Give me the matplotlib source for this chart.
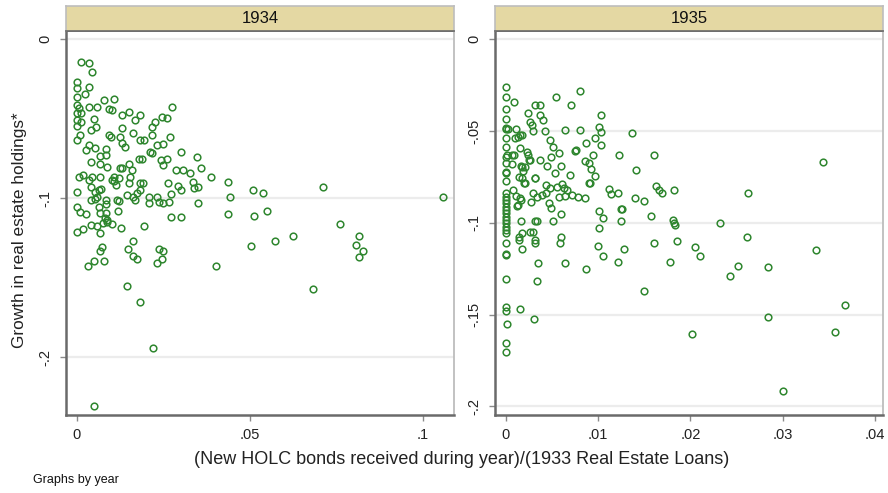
import matplotlib
matplotlib.use("Agg")
import matplotlib.pyplot as plt

plt.rcParams['font.family'] = ['Liberation Sans', 'DejaVu Sans']

# ---------------- data ----------------
years = ["1934", "1935"]

x1934 = [0.0012, 0.0036, 0.0045, 0.0, 0.0, 0.0035, 0.0, 0.0023, 0.0, 0.0006,
         0.0036, 0.0059, 0.0079, 0.0108, 0.0092, 0.0102, 0.0, 0.0013, 0.0, 0.0013,
         0.0050, 0.0, 0.0056, 0.0040, 0.0008, 0.0, 0.0131, 0.0150, 0.0169, 0.0183,
         0.0131, 0.0163, 0.0092, 0.0100, 0.0125, 0.0131, 0.0140, 0.0183, 0.0194, 0.0217,
         0.0227, 0.0217, 0.0246, 0.0260, 0.0274, 0.0269, 0.0250, 0.0231, 0.0212, 0.0217,
         0.0035, 0.0053, 0.0027, 0.0083, 0.0067, 0.0083, 0.0042, 0.0067, 0.0088, 0.0179,
         0.0189, 0.0152, 0.0160, 0.0125, 0.0131, 0.0102, 0.0121, 0.0150, 0.0154, 0.0183,
         0.0192, 0.0173, 0.0183, 0.0144, 0.0162, 0.0169, 0.0244, 0.0260, 0.0248, 0.0302,
         0.0346, 0.0360, 0.0387, 0.0287, 0.0306, 0.0327, 0.0335, 0.0339, 0.0350, 0.0292,
         0.0302, 0.0264, 0.0273, 0.0208, 0.0231, 0.0236, 0.0208, 0.0248, 0.0266, 0.0350,
         0.0437, 0.0441, 0.0437, 0.0508, 0.0537, 0.0712, 0.1058, 0.0512, 0.0548, 0.0760,
         0.0625, 0.0573, 0.0816, 0.0806, 0.0502, 0.0273, 0.0302, 0.0194, 0.0163, 0.0,
         0.0, 0.0010, 0.0027, 0.0, 0.0019, 0.0040, 0.0059, 0.0067, 0.0077, 0.0088,
         0.0102, 0.0127, 0.0119, 0.0083, 0.0081, 0.0088, 0.0065, 0.0083, 0.0083, 0.0040,
         0.0052, 0.0058, 0.0006, 0.0019, 0.0036, 0.0044, 0.0067, 0.0040, 0.0052, 0.0064,
         0.0071, 0.0106, 0.0113, 0.0117, 0.0123, 0.0067, 0.0106, 0.0072, 0.0067, 0.0148,
         0.0173, 0.0163, 0.0237, 0.0250, 0.0231, 0.0246, 0.0031, 0.0050, 0.0079, 0.0402,
         0.0827, 0.0816, 0.0144, 0.0183, 0.0683, 0.0221, 0.0051]

y1934 = [-0.0143, -0.0151, -0.0206, -0.0267, -0.0308, -0.0302, -0.0361, -0.0344, -0.0413, -0.0434,
         -0.0424, -0.0424, -0.0382, -0.0374, -0.0436, -0.0445, -0.0465, -0.0465, -0.0508, -0.0518,
         -0.0503, -0.0545, -0.0550, -0.0570, -0.0602, -0.0633, -0.0478, -0.0457, -0.0508, -0.0478,
         -0.0560, -0.0591, -0.0602, -0.0616, -0.0613, -0.0650, -0.0675, -0.0633, -0.0633, -0.0550,
         -0.0518, -0.0602, -0.0487, -0.0497, -0.0424, -0.0613, -0.0658, -0.0667, -0.0707, -0.0717,
         -0.0667, -0.0686, -0.0696, -0.0688, -0.0734, -0.0728, -0.0770, -0.0784, -0.0801, -0.0751,
         -0.0751, -0.0784, -0.0822, -0.0811, -0.0811, -0.0885, -0.0874, -0.0902, -0.0864, -0.0906,
         -0.0902, -0.0969, -0.0948, -0.0979, -0.0990, -0.1011, -0.0759, -0.0751, -0.0792, -0.0707,
         -0.0738, -0.0811, -0.0864, -0.0822, -0.0822, -0.0843, -0.0896, -0.0937, -0.0927, -0.0923,
         -0.0948, -0.0902, -0.0973, -0.0994, -0.0994, -0.1021, -0.1031, -0.1028, -0.1021, -0.1028,
         -0.0896, -0.0990, -0.1101, -0.0948, -0.0965, -0.0927, -0.0990, -0.1111, -0.1080, -0.1164,
         -0.1237, -0.1267, -0.1237, -0.1294, -0.1300, -0.1119, -0.1116, -0.1174, -0.1267, -0.0958,
         -0.1053, -0.1086, -0.1099, -0.1214, -0.1195, -0.1166, -0.1174, -0.1216, -0.1157, -0.1149,
         -0.1162, -0.1187, -0.1078, -0.1094, -0.1124, -0.1136, -0.1053, -0.1011, -0.1036, -0.1011,
         -0.1003, -0.0990, -0.0864, -0.0853, -0.0885, -0.0864, -0.0864, -0.0927, -0.0958, -0.0948,
         -0.0940, -0.0893, -0.0918, -0.1011, -0.1019, -0.1094, -0.0864, -0.1308, -0.1330, -0.1321,
         -0.1384, -0.1363, -0.1321, -0.1330, -0.1405, -0.1384, -0.1426, -0.1392, -0.1392, -0.1426,
         -0.1330, -0.1371, -0.1550, -0.1654, -0.1570, -0.1943, -0.2308]

x1935 = [0.0, 0.0, 0.0, 0.0, 0.0, 0.0002, 0.0, 0.0, 0.0, 0.0001,
         0.0, 0.0, 0.0, 0.0, 0.0, 0.0, 0.0, 0.0, 0.0, 0.0,
         0.0, 0.0, 0.0, 0.0, 0.0, 0.0, 0.0, 0.0, 0.0, 0.0,
         0.0, 0.0, 0.0, 0.0, 0.0, 0.0, 0.00017,
         0.0009, 0.00108, 0.0013, 0.00158, 0.0010, 0.0018, 0.00065, 0.0009, 0.00065, 0.00158,
         0.00231, 0.00245, 0.00252, 0.00173, 0.00187, 0.00144, 0.00173, 0.00317, 0.00242, 0.00314,
         0.00368, 0.00368, 0.00407, 0.00263, 0.00285, 0.00299, 0.00429, 0.00545, 0.00711, 0.00805,
         0.00639, 0.00805, 0.01036, 0.01014, 0.01036, 0.00971, 0.01036, 0.0087, 0.00748, 0.00762,
         0.00943, 0.0048, 0.00516, 0.00581, 0.00494, 0.00372, 0.00263, 0.00169, 0.00206, 0.00321,
         0.00451, 0.00602, 0.00531, 0.00697, 0.00862, 0.00899, 0.00927, 0.00971, 0.00906, 0.01224,
         0.01368, 0.01607, 0.01412, 0.00198, 0.00082, 0.00112, 0.00158, 0.00169, 0.00137, 0.00293,
         0.00336, 0.00277, 0.00437, 0.0048, 0.00466, 0.00494, 0.00559, 0.0061, 0.00632, 0.00661,
         0.00574, 0.00639, 0.00718, 0.00783, 0.00856, 0.00433, 0.0039, 0.00209, 0.00126, 0.00169,
         0.00321, 0.00342, 0.00516, 0.00602, 0.00141, 0.00263, 0.00299, 0.00317, 0.00173, 0.00602,
         0.00588, 0.01122, 0.01138, 0.01217, 0.0091, 0.01404, 0.01498, 0.01628, 0.01658, 0.01693,
         0.01823, 0.01014, 0.01051, 0.01014, 0.01246, 0.01263, 0.01246, 0.01571, 0.01816, 0.01823,
         0.01831, 0.02322, 0.02625, 0.03434, 0.02611, 0.01607, 0.01853, 0.0100, 0.00177, 0.01282,
         0.02054, 0.03362, 0.01213, 0.01783, 0.02108, 0.0252, 0.02427, 0.02839, 0.01495, 0.03676,
         0.02839, 0.02015, 0.03568, 0.02999, 0.00141, 0.00314, 0.0035, 0.00639, 0.0087, 0.01051,
         0.00336, 0.00155, 0.00307]

y1935 = [-0.0262, -0.0316, -0.0378, -0.0433, -0.0485, -0.0490, -0.0490, -0.0540, -0.0585, -0.0632,
         -0.0640, -0.0676, -0.0722, -0.0730, -0.0772, -0.0839, -0.0859, -0.0876, -0.0892, -0.0912,
         -0.0930, -0.0948, -0.0968, -0.0985, -0.1001, -0.1021, -0.1039, -0.1057, -0.1112, -0.1170,
         -0.1175, -0.1306, -0.1457, -0.1482, -0.1657, -0.1702, -0.1550,
         -0.0340, -0.0489, -0.0531, -0.0522, -0.0540, -0.0522, -0.0631, -0.0632, -0.0681, -0.0591,
         -0.0616, -0.0631, -0.0658, -0.0694, -0.0718, -0.0749, -0.0757, -0.0757, -0.0403, -0.0360,
         -0.0360, -0.0413, -0.0440, -0.0451, -0.0465, -0.0501, -0.0501, -0.0316, -0.0360, -0.0280,
         -0.0494, -0.0494, -0.0414, -0.0476, -0.0504, -0.0540, -0.0578, -0.0567, -0.0607, -0.0603,
         -0.0629, -0.0549, -0.0585, -0.0621, -0.0640, -0.0658, -0.0658, -0.0690, -0.0694, -0.0756,
         -0.0690, -0.0690, -0.0730, -0.0738, -0.0665, -0.0676, -0.0705, -0.0745, -0.0781, -0.0629,
         -0.0512, -0.0629, -0.0712, -0.0785, -0.0821, -0.0854, -0.0866, -0.0876, -0.0903, -0.0836,
         -0.0861, -0.0885, -0.0792, -0.0812, -0.0890, -0.0921, -0.0807, -0.0789, -0.0810, -0.0821,
         -0.0858, -0.0854, -0.0849, -0.0858, -0.0865, -0.0839, -0.0849, -0.0785, -0.0908, -0.0989,
         -0.0989, -0.0989, -0.0989, -0.0954, -0.1079, -0.1052, -0.1052, -0.1094, -0.1054, -0.1079,
         -0.1108, -0.0814, -0.0843, -0.0836, -0.0785, -0.0865, -0.0883, -0.0799, -0.0821, -0.0836,
         -0.0821, -0.0937, -0.0974, -0.1028, -0.0926, -0.0926, -0.0989, -0.0963, -0.0985, -0.0999,
         -0.1014, -0.0999, -0.0836, -0.0667, -0.1079, -0.1108, -0.1098, -0.1126, -0.1140, -0.1140,
         -0.1132, -0.1148, -0.1215, -0.1215, -0.1179, -0.1235, -0.1288, -0.1243, -0.1370, -0.1450,
         -0.1513, -0.1603, -0.1594, -0.1918, -0.1094, -0.1108, -0.1217, -0.1217, -0.1253, -0.1181,
         -0.1316, -0.1468, -0.1523]

xticks_1934 = [0, 0.05, 0.1]
xticklabels_1934 = ["0", ".05", ".1"]
yticks_1934 = [0, -0.1, -0.2]
yticklabels_1934 = ["0", "-.1", "-.2"]

xticks_1935 = [0, 0.01, 0.02, 0.03, 0.04]
xticklabels_1935 = ["0", ".01", ".02", ".03", ".04"]
yticks_1935 = [0, -0.05, -0.1, -0.15, -0.2]
yticklabels_1935 = ["0", "-.05", "-.1", "-.15", "-.2"]

xlabel = "(New HOLC bonds received during year)/(1933 Real Estate Loans)"
ylabel = "Growth in real estate holdings*"
note = "Graphs by year"

# ---------------- figure ----------------
W, H = 888, 493
fig = plt.figure(figsize=(W / 100, H / 100), dpi=100)
fig.patch.set_facecolor("white")

marker_color = "#2e862e"
dark = "#6a6a6a"
light = "#bdbdbd"

panels = [
    dict(year=years[0], x=x1934, y=y1934, xt=xticks_1934, xtl=xticklabels_1934,
         yt=yticks_1934, ytl=yticklabels_1934, left=65.7, right=454.0,
         xlim=(-0.0032, 0.1089), ylim=(-0.2363, 0.0054)),
    dict(year=years[1], x=x1935, y=y1935, xt=xticks_1935, xtl=xticklabels_1935,
         yt=yticks_1935, ytl=yticklabels_1935, left=495.0, right=883.3,
         xlim=(-0.00116, 0.0409), ylim=(-0.2047, 0.0047)),
]

top_px, bot_px, strip_top_px = 30.7, 415.0, 6.0

for p in panels:
    l = p["left"] / W
    w = (p["right"] - p["left"]) / W
    b = 1 - bot_px / H
    h = (bot_px - top_px) / H
    ax = fig.add_axes([l, b, w, h])
    ax.set_facecolor("white")
    ax.set_xlim(*p["xlim"])
    ax.set_ylim(*p["ylim"])
    for yv in p["yt"]:
        ax.axhline(yv, color="#ececec", lw=1.6, zorder=0)
    ax.plot(p["x"], p["y"], linestyle="none", marker="o", markersize=4.8,
            markerfacecolor="none", markeredgecolor=marker_color,
            markeredgewidth=1.1, zorder=3)
    ax.set_xticks(p["xt"])
    ax.set_xticklabels(p["xtl"])
    ax.set_yticks(p["yt"])
    ax.set_yticklabels(p["ytl"], rotation=90, va="center")
    ax.tick_params(axis="both", direction="out", length=4.5, width=1.0,
                   color="#8a8a8a", labelsize=10.5, labelcolor="#222222")
    ax.tick_params(axis="x", pad=5)
    ax.tick_params(axis="y", pad=5)
    ax.spines["left"].set_color(dark)
    ax.spines["left"].set_linewidth(1.8)
    ax.spines["bottom"].set_color(dark)
    ax.spines["bottom"].set_linewidth(1.8)
    ax.spines["right"].set_color(light)
    ax.spines["right"].set_linewidth(1.3)
    ax.spines["top"].set_color(dark)
    ax.spines["top"].set_linewidth(1.2)

    # strip
    sb = 1 - top_px / H
    sh = (top_px - strip_top_px) / H
    sax = fig.add_axes([l, sb, w, sh])
    sax.set_facecolor("#e4d8a3")
    sax.set_xticks([])
    sax.set_yticks([])
    for s in ["left", "right", "top"]:
        sax.spines[s].set_color(light)
        sax.spines[s].set_linewidth(1.2)
    sax.spines["bottom"].set_color(dark)
    sax.spines["bottom"].set_linewidth(1.2)
    sax.text(0.5, 0.48, p["year"], ha="center", va="center", fontsize=12,
             color="#111111", transform=sax.transAxes)

fig.text(461.5 / W, 1 - 460 / H, xlabel, ha="center", va="center",
         fontsize=13, color="#222222")
fig.text(20 / W, 1 - 230 / H, ylabel, ha="center", va="center", rotation=90,
         fontsize=12.4, color="#222222")
fig.text(33 / W, 1 - 480 / H, note, ha="left", va="center", fontsize=9,
         color="#111111")

fig.savefig("out.png", dpi=100, facecolor="white")
